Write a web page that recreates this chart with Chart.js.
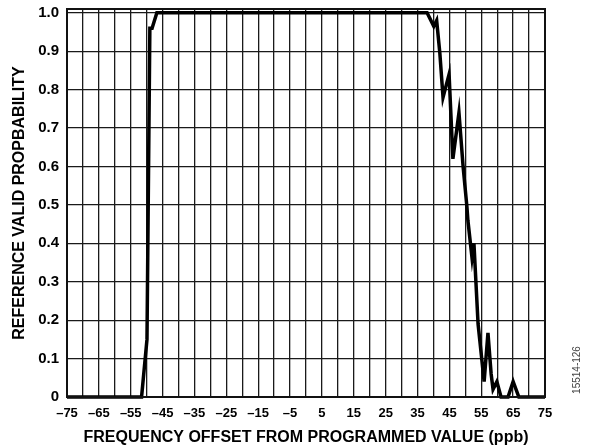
<!DOCTYPE html>
<html>
<head>
<meta charset="utf-8">
<script src="https://cdn.jsdelivr.net/npm/chart.js@4.4.1/dist/chart.umd.min.js"></script>
<style>
  html, body { margin: 0; padding: 0; background: #fff; }
  #wrap { position: relative; width: 589px; height: 447px; }
</style>
</head>
<body>
<div id="wrap"><canvas id="chartCanvas" width="589" height="447"></canvas></div>
<script>
// datos
const offsetPpb = [-75, -51.6, -49.9, -49.0, -48.3, -46.8, 38.0, 40.1, 41.0, 42.0, 43.0, 44.9, 46.1, 48.0, 49.3, 50.5, 50.8, 52.1, 52.7, 54.0, 55.9, 57.1, 58.1, 58.7, 59.9, 61.2, 63.4, 65.0, 66.8, 75];
const validProb = [0, 0, 0.15, 0.96, 0.96, 1.0, 1.0, 0.965, 0.98, 0.895, 0.78, 0.84, 0.62, 0.74, 0.6, 0.495, 0.46, 0.362, 0.40, 0.19, 0.04, 0.167, 0.06, 0.02, 0.04, 0, 0, 0.04, 0, 0];

const xTicks = [-75, -70, -65, -60, -55, -50, -45, -40, -35, -30, -25, -20, -15, -10, -5, 0, 5, 10, 15, 20, 25, 30, 35, 40, 45, 50, 55, 60, 65, 70, 75];
const xLabelTicks = [-75, -65, -55, -45, -35, -25, -15, -5, 5, 15, 25, 35, 45, 55, 65, 75];
const yTicks = [0, 0.1, 0.2, 0.3, 0.4, 0.5, 0.6, 0.7, 0.8, 0.9, 1.0];

const fontFam = '"Liberation Sans", Arial, Helvetica, sans-serif';

// marco y código de figura
const framePlugin = {
  id: 'frame',
  afterDraw(chart) {
    const a = chart.chartArea;
    const c = chart.ctx;
    c.save();
    c.strokeStyle = '#111';
    c.lineWidth = 2;
    c.strokeRect(a.left, a.top, a.right - a.left, a.bottom - a.top);
    c.translate(577, 370);
    c.rotate(-Math.PI / 2);
    c.fillStyle = '#444';
    c.font = '10px ' + fontFam;
    c.textAlign = 'center';
    c.textBaseline = 'middle';
    c.fillText('15514-126', 0, 0);
    c.restore();
  }
};

const ctx = document.getElementById('chartCanvas').getContext('2d');
const probChart = new Chart(ctx, {
  type: 'line',
  data: {
    datasets: [{
      data: offsetPpb.map((x, i) => ({ x: x, y: validProb[i] })),
      borderColor: '#000',
      borderWidth: 3.5,
      pointRadius: 0,
      tension: 0,
      fill: false,
      clip: 4
    }]
  },
  options: {
    responsive: false,
    animation: false,
    layout: { padding: { top: 9, right: 44, left: 0, bottom: 0 } },
    plugins: { legend: { display: false }, tooltip: { enabled: false } },
    scales: {
      x: {
        type: 'linear',
        min: -75,
        max: 75,
        afterBuildTicks: s => { s.ticks = xTicks.map(v => ({ value: v })); },
        afterFit: s => { s.height = 50; s.paddingLeft = 0; s.paddingRight = 0; },
        grid: { color: '#1a1a1a', lineWidth: 1.3, drawTicks: false },
        border: { display: false },
        ticks: {
          autoSkip: false,
          maxRotation: 0,
          padding: 9,
          color: '#000',
          font: { family: fontFam, size: 13, weight: 'bold' },
          callback: v => xLabelTicks.includes(v) ? (v < 0 ? '\u2013' + Math.abs(v) : String(v)) : ''
        },
        title: {
          display: true,
          text: 'FREQUENCY OFFSET FROM PROGRAMMED VALUE (ppb)',
          color: '#000',
          padding: { top: 0, bottom: 0 },
          font: { family: fontFam, size: 16, weight: 'bold' }
        }
      },
      y: {
        min: 0,
        max: 1.01,
        afterBuildTicks: s => { s.ticks = yTicks.map(v => ({ value: v })); },
        afterFit: s => { s.width = 67; s.paddingTop = 0; s.paddingBottom = 0; },
        grid: { color: '#1a1a1a', lineWidth: 1.3, drawTicks: false },
        border: { display: false },
        ticks: {
          padding: 8,
          color: '#000',
          font: { family: fontFam, size: 15, weight: 'bold' },
          callback: v => v === 0 ? '0' : v.toFixed(1)
        },
        title: {
          display: true,
          text: 'REFERENCE VALID PROPBABILITY',
          color: '#000',
          padding: { top: 10, bottom: 0 },
          font: { family: fontFam, size: 16, weight: 'bold' }
        }
      }
    }
  },
  plugins: [framePlugin]
});
</script>
</body>
</html>
